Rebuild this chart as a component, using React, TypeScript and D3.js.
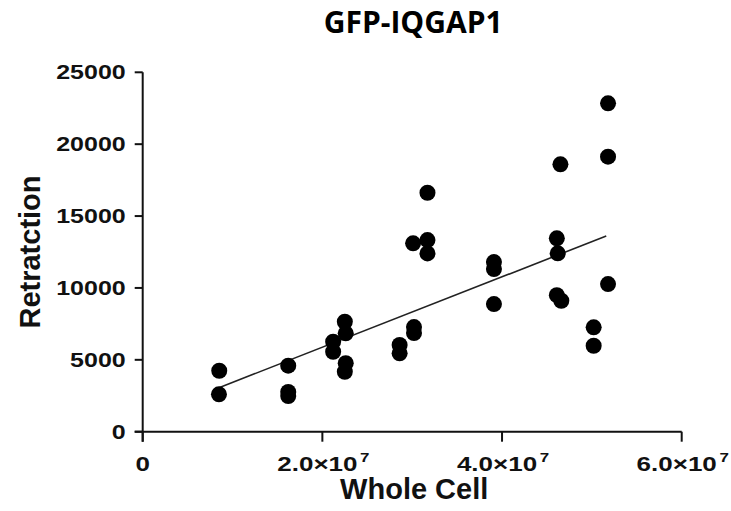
import React from "react";
import * as d3 from "d3";

const title = "GFP-IQGAP1";
const xLabel = "Whole Cell";
const yLabel = "Retratction";

const wholeCell = [
  8.52e6, 8.49e6, 1.62e7, 1.62e7, 1.62e7,
  2.12e7, 2.12e7, 2.25e7, 2.26e7, 2.26e7, 2.25e7,
  2.86e7, 2.86e7, 3.02e7, 3.02e7,
  3.17e7, 3.01e7, 3.17e7, 3.17e7,
  3.91e7, 3.91e7, 3.91e7,
  4.65e7, 4.61e7, 4.62e7, 4.61e7, 4.66e7,
  5.02e7, 5.02e7, 5.18e7, 5.18e7, 5.18e7,
];
const retraction = [
  4240, 2600, 4590, 2760, 2480,
  6260, 5560, 7650, 6840, 4760, 4170,
  6030, 5450, 7280, 6860,
  16620, 13100, 13330, 12400,
  11800, 11310, 8880,
  18600, 13450, 12410, 9500, 9110,
  7260, 5980, 10270, 22840, 19130,
];

const fitX = [8.49e6, 5.16e7];
const fitY = [3060, 13610];

const xTicks = [0, 2e7, 4e7, 6e7];
const xTickMantissa = ["0", "2.0×10", "4.0×10", "6.0×10"];
const xTickExp = ["", "7", "7", "7"];
const yTicks = [0, 5000, 10000, 15000, 20000, 25000];

export default function App() {
  const left = 142.7, right = 681.7, top = 72.3, bottom = 431.7;
  const x = d3.scaleLinear().domain([0, 6e7]).range([left, right]);
  const y = d3.scaleLinear().domain([0, 25000]).range([bottom, top]);
  const line = d3.line<number>().x((d) => x(fitX[d])).y((d) => y(fitY[d]));
  const axisFont = "'Liberation Sans', Arial, sans-serif";
  const cx = (left + right) / 2;
  const cy = (top + bottom) / 2;

  return (
    <svg width={731} height={511} style={{ position: "absolute", left: 0, top: 0, background: "#fff" }}>
      <text x={cx + 1} y={33} textAnchor="middle" fontFamily="'Open Sans', sans-serif" fontWeight={700} fontSize={30} fill="#000">
        {title}
      </text>
      {/* axes */}
      <line x1={left} x2={left} y1={top} y2={bottom + 10} stroke="#111" strokeWidth={2} />
      <line x1={left - 8} x2={right} y1={bottom} y2={bottom} stroke="#111" strokeWidth={2} />
      {yTicks.map((t) => (
        <g key={"y" + t}>
          <line x1={left - 8} x2={left} y1={y(t)} y2={y(t)} stroke="#111" strokeWidth={2} />
          <g transform={`translate(${left - 17},${y(t) + 7}) scale(1.25,1)`}>
            <text textAnchor="end" fontFamily={axisFont} fontWeight={700} fontSize={20} fill="#111">
              {d3.format("d")(t)}
            </text>
          </g>
        </g>
      ))}
      {xTicks.map((t, i) => (
        <g key={"x" + t}>
          <line x1={x(t)} x2={x(t)} y1={bottom} y2={bottom + 10} stroke="#111" strokeWidth={2} />
          <g transform={`translate(${x(t) + (xTickExp[i] ? 1 : 0)},${bottom + 39}) scale(1.3,1)`}>
            <text textAnchor="middle" fontFamily={axisFont} fontWeight={700} fontSize={20} fill="#111">
              {xTickMantissa[i]}
              {xTickExp[i] ? (
                <tspan dx={2} dy={-9} fontSize={13}>
                  {xTickExp[i]}
                </tspan>
              ) : null}
            </text>
          </g>
        </g>
      ))}
      <text x={cx + 2} y={499} textAnchor="middle" fontFamily={axisFont} fontWeight={700} fontSize={29} fill="#111">
        {xLabel}
      </text>
      <text transform={`translate(40,${cy}) rotate(-90)`} textAnchor="middle" fontFamily={axisFont} fontWeight={700} fontSize={29} fill="#111">
        {yLabel}
      </text>
      <path d={line([0, 1]) || ""} stroke="#222" strokeWidth={1.6} fill="none" />
      {wholeCell.map((v, i) => (
        <circle key={i} cx={x(v)} cy={y(retraction[i])} r={8} fill="#000" />
      ))}
    </svg>
  );
}
